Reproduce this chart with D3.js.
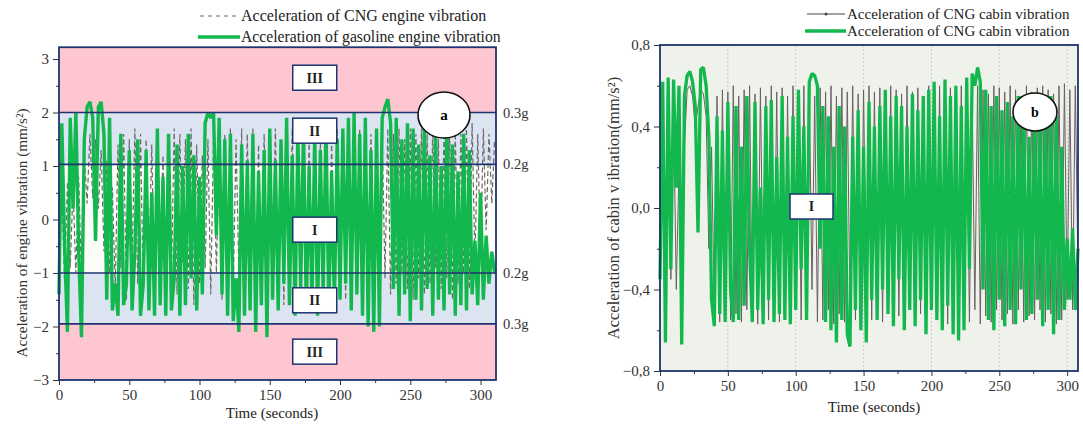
<!DOCTYPE html>
<html>
<head>
<meta charset="utf-8">
<script src="https://cdn.jsdelivr.net/npm/d3@7.9.0/dist/d3.min.js"></script>
<style>
  html, body { margin: 0; padding: 0; background: #fff; }
  svg { display: block; font-family: "Liberation Serif", "DejaVu Serif", serif; }
  .tick text { fill: #333; }
</style>
</head>
<body>
<svg id="chart" width="1083" height="427"></svg>
<script>
// ---- data (one value every 2 s) ----
const engineTime = d3.range(0, 311, 2);           // 0..310 s
const gasolineEngine = [
  -1.4, 1.8, -0.5, -2.1, 1.9, 0.2, 2.0, -0.6, -2.2, 1.5,
  2.1, 2.2, 1.9, -0.4, 2.1, 2.2, 1.6, -1.5, 1.9, -1.7,
  -1.2, -1.8, 1.6, -1.6, -1.2, 1.3, -1.7, -0.6, 1.5, -1.8,
  -1.2, 1.3, -1.7, 0.5, -1.8, 1.7, -1.6, 0.8, -1.8, 1.6,
  -1.7, -1.1, 1.4, -1.8, 1.0, -1.6, 1.6, -1.1, 1.2, -1.7,
  0.8, -1.4, 1.8, 2.0, 1.9, 2.0, -0.3, 1.9, -1.4, 1.5,
  -1.8, 1.6, -1.9, -1.1, -2.1, 1.4, -1.8, 1.1, -1.7, 1.6,
  -2.1, 0.9, -1.6, 1.3, -2.2, 1.7, -1.5, 1.1, -1.7, 1.5,
  -1.2, 1.9, -1.6, 1.2, -1.8, 1.6, -1.3, 1.7, -1.7, 1.0,
  -1.6, 1.6, -1.8, 1.3, -1.4, 1.8, -1.7, 0.9, -1.6, 1.5,
  -1.5, 1.7, -1.2, 1.9, -1.7, 2.0, -1.4, 1.6, -1.8, 1.9,
  -2.0, 1.3, -2.1, 1.7, -2.0, 1.9, 2.1, 2.25, 1.8, -1.3,
  1.9, -1.8, 1.5, -1.4, 1.8, -1.9, 1.7, -1.5, 1.4, -1.7,
  1.8, -1.3, 1.2, -1.8, 1.6, -1.5, 1.0, -1.7, 1.9, -1.4,
  1.4, -1.8, 0.9, -1.6, 1.6, -1.7, 1.3, -1.4, -0.4, -1.6,
  0.5, -1.5, -0.3, -1.2, -0.6, -1.0
];
const cngEngine = [
  -0.8, 0.5, -1.2, 0.7, -0.9, 0.6, -1.0, 0.8, -1.1, 1.2,
  0.3, 1.6, 0.4, 1.5, 0.2, 1.3, -0.6, 1.1, -1.0, 0.6,
  -1.3, 1.4, -0.9, 1.6, -1.5, 1.5, -0.8, 1.7, -1.2, 1.6,
  -1.4, 1.5, -1.0, 1.4, -1.3, 1.6, -0.9, 1.2, -1.5, 1.3,
  -1.1, 1.7, -1.4, 1.6, -0.8, 1.5, -1.3, 1.7, -1.6, 1.4,
  -1.2, 1.2, -0.9, 1.5, -1.4, 1.6, -1.0, 1.3, -1.5, 1.6,
  -1.1, 1.7, -1.3, 1.5, -1.0, 1.7, -1.4, 1.6, -1.2, 1.7,
  -1.5, 1.4, -1.1, 1.6, -1.3, 1.5, -0.9, 1.7, -1.4, 1.3,
  -1.6, 1.6, -1.2, 1.7, -1.5, 1.4, -1.0, 1.6, -1.3, 1.5,
  -1.1, 1.7, -1.4, 1.5, -1.2, 1.6, -1.6, 1.4, -1.0, 1.7,
  -1.3, 1.5, -1.5, 1.7, -1.1, 1.6, -1.4, 1.7, -1.2, 1.5,
  -1.0, 1.6, -1.3, 1.7, -1.5, 1.6, -1.1, 1.7, -1.4, 1.6,
  -1.2, 1.7, -1.0, 1.5, -1.3, 1.7, -1.5, 1.6, -1.1, 1.7,
  -1.4, 1.6, -1.2, 1.7, -0.9, 1.5, -1.3, 1.7, -1.1, 1.6,
  -1.5, 1.7, -1.2, 1.6, -1.0, 1.7, -1.3, 1.8, -0.8, 1.6,
  -0.7, 1.7, -0.2, 1.6, 0.3, 1.5
];

const cabinTime = d3.range(0, 309, 2);            // 0..308 s
const cngCabinGreen = [
  -0.35, 0.62, -0.66, 0.64, -0.30, 0.63, 0.10, 0.60, -0.67, 0.55,
  0.65, 0.67, 0.62, 0.50, -0.12, 0.68, 0.69, 0.60, 0.35, -0.45,
  -0.58, 0.45, -0.52, 0.38, -0.56, 0.52, -0.40, -0.56, 0.50, -0.55,
  0.30, -0.48, 0.55, -0.20, -0.56, 0.52, -0.50, 0.10, -0.57, 0.50,
  -0.45, 0.53, -0.56, 0.25, -0.52, 0.55, -0.55, 0.35, -0.57, 0.45,
  -0.50, 0.58, -0.30, 0.40, -0.55, 0.62, 0.66, 0.65, 0.60, -0.20,
  0.50, -0.56, 0.45, -0.60, 0.30, -0.66, 0.50, -0.55, 0.40, -0.62,
  -0.68, 0.35, -0.50, 0.48, -0.60, 0.30, -0.66, 0.52, -0.45, 0.40,
  -0.55, 0.50, -0.40, 0.58, -0.52, 0.45, -0.58, 0.55, -0.35, 0.50,
  -0.60, 0.40, -0.50, 0.56, -0.58, 0.48, -0.45, 0.55, -0.62, 0.58,
  -0.50, 0.62, -0.55, 0.45, -0.60, 0.63, -0.48, 0.55, -0.62, 0.60,
  -0.65, 0.50, -0.60, 0.64, -0.30, 0.66, 0.60, 0.69, 0.62, -0.40,
  0.58, -0.55, 0.50, -0.60, 0.55, -0.45, 0.48, -0.58, 0.52, -0.50,
  0.45, -0.57, 0.55, -0.40, 0.50, -0.55, 0.35, -0.52, 0.48, -0.45,
  0.50, -0.58, 0.40, -0.50, 0.55, -0.62, 0.45, -0.55, 0.30, -0.50,
  -0.15, -0.45, -0.10, -0.50, -0.20
];
const cngCabinGray = [
  -0.30, 0.20, -0.45, 0.55, -0.35, 0.50, -0.40, 0.20, -0.55, 0.30,
  0.58, 0.60, 0.55, 0.40, 0.50, 0.58, 0.56, 0.45, -0.20, 0.30,
  -0.50, 0.55, -0.56, 0.58, -0.48, 0.57, -0.55, 0.60, -0.52, 0.55,
  -0.56, 0.58, -0.50, 0.60, -0.55, 0.56, -0.57, 0.59, -0.45, 0.55,
  -0.55, 0.60, -0.52, 0.57, -0.56, 0.59, -0.50, 0.55, -0.57, 0.60,
  -0.48, 0.56, -0.55, 0.60, -0.52, 0.58, -0.40, 0.55, -0.56, 0.59,
  -0.55, 0.57, -0.50, 0.60, -0.57, 0.55, -0.52, 0.59, -0.56, 0.57,
  -0.50, 0.60, -0.55, 0.56, -0.57, 0.58, -0.45, 0.60, -0.55, 0.57,
  -0.52, 0.59, -0.56, 0.55, -0.50, 0.60, -0.57, 0.58, -0.53, 0.56,
  -0.55, 0.60, -0.48, 0.57, -0.56, 0.59, -0.52, 0.55, -0.57, 0.60,
  -0.50, 0.58, -0.55, 0.60, -0.53, 0.56, -0.57, 0.59, -0.45, 0.57,
  -0.55, 0.60, -0.52, 0.58, -0.56, 0.55, -0.50, 0.60, -0.57, 0.58,
  -0.53, 0.56, -0.56, 0.60, -0.50, 0.59, -0.55, 0.57, -0.52, 0.60,
  -0.57, 0.58, -0.50, 0.55, -0.56, 0.60, -0.53, 0.57, -0.55, 0.59,
  -0.50, 0.60, -0.56, 0.58, -0.52, 0.56, -0.57, 0.60, -0.55, 0.61,
  -0.45, 0.58, -0.50, 0.60, -0.30
];

// zones of the engine plot (boundaries in mm/s², label in g)
const zoneLines = [2, 1.03, -1, -1.95];
const zoneLabels = ['0.3g', '0.2g', '0.2g', '0.3g'];
const xTicks = [0, 50, 100, 150, 200, 250, 300];
const engineYTicks = [-3, -2, -1, 0, 1, 2, 3];
const cabinYTicks = [-0.8, -0.4, 0, 0.4, 0.8];

const GREEN = '#12b84e';
const NAVY = '#1f3370';
const SERIF = '"Liberation Serif", "DejaVu Serif", serif';
const svg = d3.select('#chart');

// ---- helper for axes ----
function drawAxes(g, x, y, xt, yt, yFmt, xMinor, yMinor) {
  const ax = g.append('g').attr('class', 'axes');
  ax.append('g').attr('transform', `translate(0,${y.range()[0]})`)
    .call(d3.axisBottom(x).tickValues(xt).tickSize(5).tickPadding(4));
  ax.append('g').attr('transform', `translate(${x.range()[0]},0)`)
    .call(d3.axisLeft(y).tickValues(yt).tickFormat(yFmt).tickSize(6).tickPadding(4));
  ax.append('g').attr('transform', `translate(0,${y.range()[0]})`)
    .call(d3.axisBottom(x).tickValues(xMinor).tickFormat('').tickSize(3));
  ax.append('g').attr('transform', `translate(${x.range()[0]},0)`)
    .call(d3.axisLeft(y).tickValues(yMinor).tickFormat('').tickSize(3));
  ax.selectAll('g').attr('font-family', SERIF).attr('font-size', 15);
  ax.selectAll('.domain').remove();
  ax.selectAll('.tick line').attr('stroke', '#333');
  ax.selectAll('.tick text').attr('fill', '#333');
}

// ================= panel a : engine =================
(function () {
  const x = d3.scaleLinear().domain([0, 311]).range([59, 496]);
  const y = d3.scaleLinear().domain([-3, 3]).range([380, 59]);
  const top = y(3.22), bottom = y(-3);
  const g = svg.append('g');

  // coloured bands
  g.append('rect').attr('x', x(0)).attr('y', top).attr('width', x(311) - x(0)).attr('height', bottom - top).attr('fill', '#fdc6d1');
  g.append('rect').attr('x', x(0)).attr('y', y(2)).attr('width', x(311) - x(0)).attr('height', y(-1.95) - y(2)).attr('fill', '#dce3f1');
  g.append('rect').attr('x', x(0)).attr('y', y(1.03)).attr('width', x(311) - x(0)).attr('height', y(-1) - y(1.03)).attr('fill', '#fcfcf8');

  const line = d3.line().x((d, i) => x(engineTime[i])).y(d => y(d));
  g.append('path').datum(cngEngine).attr('d', line)
    .attr('fill', 'none').attr('stroke', '#6a6a6a').attr('stroke-width', 1.2).attr('stroke-dasharray', '5,3');
  g.append('path').datum(gasolineEngine).attr('d', line)
    .attr('fill', 'none').attr('stroke', GREEN).attr('stroke-width', 3.4).attr('stroke-linejoin', 'bevel');

  // zone lines and labels
  g.selectAll('line.zone').data(zoneLines).join('line')
    .attr('x1', x(0)).attr('x2', x(311)).attr('y1', d => y(d)).attr('y2', d => y(d))
    .attr('stroke', NAVY).attr('stroke-width', 1.6);
  g.selectAll('text.zl').data(zoneLines).join('text')
    .attr('x', 503).attr('y', d => y(d) + 5).text((d, i) => zoneLabels[i])
    .style('font-size', '14.5px').attr('fill', '#333');

  // frame
  g.append('rect').attr('x', x(0)).attr('y', top).attr('width', x(311) - x(0)).attr('height', bottom - top)
    .attr('fill', 'none').attr('stroke', NAVY).attr('stroke-width', 1.8);

  // region boxes
  const boxes = [['III', 2.65], ['II', 1.66], ['I', -0.19], ['II', -1.51], ['III', -2.47]];
  boxes.forEach(([t, v]) => {
    const cx = x(182), cy = y(v);
    g.append('rect').attr('x', cx - 22).attr('y', cy - 12.5).attr('width', 44).attr('height', 25)
      .attr('fill', '#fff').attr('stroke', NAVY).attr('stroke-width', 1.5);
    g.append('text').attr('x', cx).attr('y', cy + 5).attr('text-anchor', 'middle')
      .style('font-size', '14px').style('font-weight', 'bold').attr('fill', '#222').text(t);
  });
  g.append('ellipse').attr('cx', 444).attr('cy', 115).attr('rx', 26).attr('ry', 23)
    .attr('fill', '#fff').attr('stroke', '#111').attr('stroke-width', 1.6);
  g.append('text').attr('x', 444).attr('y', 120).attr('text-anchor', 'middle')
    .style('font-size', '15px').style('font-weight', 'bold').text('a');

  drawAxes(g, x, y, xTicks, engineYTicks, d3.format('d'),
    [25, 75, 125, 175, 225, 275], [-2.5, -1.5, -0.5, 0.5, 1.5, 2.5]);

  g.append('text').attr('x', 272).attr('y', 418).attr('text-anchor', 'middle')
    .style('font-size', '15px').attr('fill', '#222').text('Time (seconds)');
  g.append('text').attr('transform', 'translate(27,233) rotate(-90)').attr('text-anchor', 'middle')
    .style('font-size', '15.2px').attr('fill', '#333').text('Acceleration of engine vibration (mm/s²)');

  // legend
  const lg = g.append('g');
  lg.append('line').attr('x1', 200).attr('x2', 238).attr('y1', 16).attr('y2', 16)
    .attr('stroke', '#666').attr('stroke-width', 1.2).attr('stroke-dasharray', '4,4');
  lg.append('text').attr('x', 241).attr('y', 21).style('font-size', '16px').attr('fill', '#222')
    .text('Acceleration of CNG engine vibration');
  lg.append('line').attr('x1', 198).attr('x2', 240).attr('y1', 37).attr('y2', 37)
    .attr('stroke', GREEN).attr('stroke-width', 3.5);
  lg.append('text').attr('x', 241).attr('y', 42).style('font-size', '15.7px').attr('fill', '#222')
    .text('Acceleration of gasoline engine vibration');
})();

// ================= panel b : cabin =================
(function () {
  const x = d3.scaleLinear().domain([0, 308]).range([660, 1078]);
  const y = d3.scaleLinear().domain([-0.8, 0.8]).range([371, 45]);
  const g = svg.append('g');

  g.append('rect').attr('x', x(0)).attr('y', y(0.8)).attr('width', x(308) - x(0)).attr('height', y(-0.8) - y(0.8))
    .attr('fill', '#eef2ea');
  g.selectAll('line.grid').data(xTicks.slice(1)).join('line')
    .attr('x1', d => x(d)).attr('x2', d => x(d)).attr('y1', y(0.8)).attr('y2', y(-0.8))
    .attr('stroke', '#c8ccc8').attr('stroke-width', 1).attr('stroke-dasharray', '2,2');

  const line = d3.line().x((d, i) => x(cabinTime[i])).y(d => y(d));
  g.append('path').datum(cngCabinGray).attr('d', line)
    .attr('fill', 'none').attr('stroke', '#6b5f63').attr('stroke-width', 1);
  g.append('path').datum(cngCabinGreen).attr('d', line)
    .attr('fill', 'none').attr('stroke', GREEN).attr('stroke-width', 3.3).attr('stroke-linejoin', 'bevel');

  g.append('rect').attr('x', x(0)).attr('y', y(0.8)).attr('width', x(308) - x(0)).attr('height', y(-0.8) - y(0.8))
    .attr('fill', 'none').attr('stroke', NAVY).attr('stroke-width', 1.8);

  // box I and ellipse b
  g.append('rect').attr('x', 790).attr('y', 194).attr('width', 43).attr('height', 25)
    .attr('fill', '#fff').attr('stroke', NAVY).attr('stroke-width', 1.5);
  g.append('text').attr('x', 811.5).attr('y', 211).attr('text-anchor', 'middle')
    .style('font-size', '14px').style('font-weight', 'bold').attr('fill', '#222').text('I');
  g.append('ellipse').attr('cx', 1035).attr('cy', 112).attr('rx', 22).attr('ry', 19)
    .attr('fill', '#fff').attr('stroke', '#111').attr('stroke-width', 1.6);
  g.append('text').attr('x', 1035).attr('y', 117).attr('text-anchor', 'middle')
    .style('font-size', '14px').style('font-weight', 'bold').text('b');

  drawAxes(g, x, y, xTicks, cabinYTicks, d => d3.format('.1f')(d).replace('.', ','),
    [25, 75, 125, 175, 225, 275], [-0.6, -0.2, 0.2, 0.6]);

  g.append('text').attr('x', 874).attr('y', 412).attr('text-anchor', 'middle')
    .style('font-size', '15px').attr('fill', '#222').text('Time (seconds)');
  g.append('text').attr('transform', 'translate(619,208) rotate(-90)').attr('text-anchor', 'middle')
    .style('font-size', '16.5px').attr('fill', '#333').text('Acceleration of cabin v ibration(mm/s²)');

  const lg = g.append('g');
  lg.append('line').attr('x1', 807).attr('x2', 845).attr('y1', 14).attr('y2', 14)
    .attr('stroke', '#444').attr('stroke-width', 1);
  lg.append('circle').attr('cx', 826).attr('cy', 14).attr('r', 1.5).attr('fill', '#444');
  lg.append('text').attr('x', 847).attr('y', 19).style('font-size', '15px').attr('fill', '#222')
    .text('Acceleration of CNG cabin vibration');
  lg.append('line').attr('x1', 805).attr('x2', 846).attr('y1', 31).attr('y2', 31)
    .attr('stroke', GREEN).attr('stroke-width', 3.5);
  lg.append('text').attr('x', 847).attr('y', 36).style('font-size', '15px').attr('fill', '#222')
    .text('Acceleration of CNG cabin vibration');
})();
</script>
</body>
</html>
